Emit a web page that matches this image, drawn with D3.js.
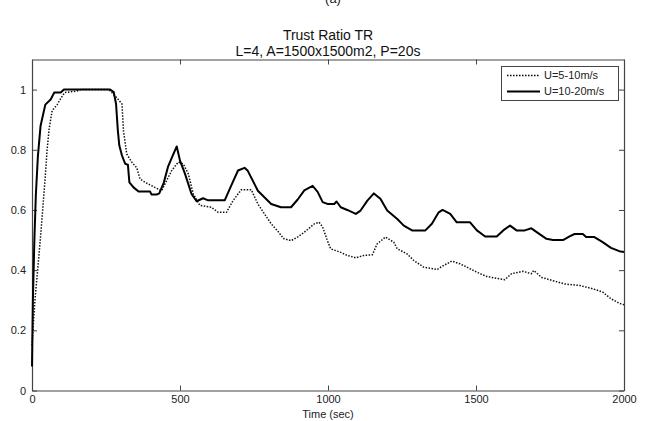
<!DOCTYPE html>
<html>
<head>
<meta charset="utf-8">
<script src="https://cdn.jsdelivr.net/npm/d3@7"></script>
<style>
	body { margin: 0; background: #fff; }
	svg { display: block; font-family: "Liberation Sans", Arial, sans-serif; }
</style>
</head>
<body>
<svg id="chart"></svg>
<script>
const W = 653;
const H = 421;

// U=5-10m/s (dotted)
const timeSlow = [0, 3, 10, 19, 28, 36, 44, 51, 58, 68, 85, 100, 110, 150, 165, 260, 270, 290, 304, 309, 320, 337, 354, 365, 382, 415, 438, 449, 472, 494, 511, 528, 545, 567, 606, 629, 657, 679, 707, 741, 763, 808, 830, 850, 875, 897, 920, 954, 970, 982, 998, 1009, 1043, 1065, 1094, 1122, 1150, 1166, 1194, 1222, 1234, 1267, 1290, 1323, 1368, 1390, 1418, 1446, 1469, 1503, 1536, 1597, 1620, 1659, 1687, 1695, 1721, 1760, 1800, 1850, 1895, 1928, 1956, 1984, 2000];
const trustSlow = [0.15, 0.2, 0.3, 0.4, 0.5, 0.6, 0.7, 0.8, 0.87, 0.93, 0.95, 0.975, 0.99, 0.995, 1, 1, 0.99, 0.969, 0.952, 0.864, 0.786, 0.759, 0.74, 0.703, 0.692, 0.675, 0.664, 0.686, 0.731, 0.759, 0.753, 0.72, 0.653, 0.615, 0.609, 0.592, 0.592, 0.631, 0.667, 0.667, 0.62, 0.554, 0.53, 0.505, 0.498, 0.51, 0.526, 0.554, 0.559, 0.543, 0.498, 0.471, 0.459, 0.449, 0.441, 0.449, 0.451, 0.487, 0.51, 0.493, 0.471, 0.454, 0.432, 0.41, 0.402, 0.415, 0.43, 0.421, 0.41, 0.393, 0.379, 0.368, 0.388, 0.396, 0.388, 0.399, 0.376, 0.365, 0.354, 0.349, 0.338, 0.327, 0.305, 0.29, 0.285];

// U=10-20m/s (solid)
const timeFast = [0, 3, 8, 13, 20, 29, 45, 63, 75, 97, 108, 264, 276, 284, 290, 295, 304, 315, 324, 329, 343, 360, 399, 404, 421, 430, 445, 460, 475, 489, 500, 517, 539, 556, 578, 595, 651, 673, 696, 718, 729, 763, 808, 841, 875, 897, 920, 948, 965, 982, 998, 1021, 1029, 1043, 1065, 1094, 1110, 1133, 1155, 1177, 1200, 1234, 1256, 1284, 1329, 1351, 1374, 1387, 1413, 1435, 1480, 1503, 1531, 1570, 1592, 1615, 1637, 1665, 1687, 1710, 1738, 1760, 1794, 1816, 1833, 1861, 1872, 1900, 1928, 1956, 1984, 2000];
const trustFast = [0.08, 0.3, 0.5, 0.65, 0.78, 0.88, 0.95, 0.967, 0.99, 0.99, 1, 1, 0.992, 0.952, 0.864, 0.814, 0.781, 0.753, 0.75, 0.692, 0.675, 0.661, 0.661, 0.651, 0.651, 0.655, 0.69, 0.745, 0.78, 0.811, 0.764, 0.72, 0.653, 0.629, 0.639, 0.632, 0.632, 0.681, 0.731, 0.74, 0.73, 0.664, 0.62, 0.609, 0.609, 0.634, 0.665, 0.68, 0.66, 0.626, 0.62, 0.62, 0.628, 0.609, 0.6, 0.587, 0.598, 0.631, 0.655, 0.637, 0.598, 0.57, 0.548, 0.532, 0.532, 0.554, 0.592, 0.6, 0.587, 0.559, 0.559, 0.532, 0.512, 0.512, 0.532, 0.548, 0.532, 0.532, 0.539, 0.523, 0.504, 0.5, 0.5, 0.512, 0.52, 0.52, 0.51, 0.51, 0.493, 0.474, 0.463, 0.46];

const xTicks = [0, 500, 1000, 1500, 2000];
const yTicks = [0, 0.2, 0.4, 0.6, 0.8, 1];
const seriesNames = ["U=5-10m/s", "U=10-20m/s"];

const margin = { left: 32, right: 29, top: 59.5, bottom: 30.5 };
const axisColor = "#444";

function drawChart(svg) {
	let x = d3.scaleLinear().domain([0, 2000]).range([margin.left, W - margin.right]);
	let y = d3.scaleLinear().domain([0, 1.1]).range([H - margin.bottom, margin.top]);

	svg.append("text").attr("x", 333).attr("y", 3).attr("text-anchor", "middle")
		.attr("font-size", 13).attr("fill", "#222").text("(a)");
	svg.append("text").attr("x", 328).attr("y", 40).attr("text-anchor", "middle")
		.attr("font-size", 14).attr("fill", "#111").text("Trust Ratio TR");
	svg.append("text").attr("x", 328).attr("y", 56).attr("text-anchor", "middle")
		.attr("font-size", 14).attr("fill", "#111").text("L=4, A=1500x1500m2, P=20s");

	// box with inward ticks on all four sides
	let bottom = svg.append("g").attr("transform", `translate(0,${y(0)})`)
		.call(d3.axisBottom(x).tickValues(xTicks).tickFormat(d3.format("d"))
			.tickSizeInner(-5).tickSizeOuter(0).tickPadding(5));
	let top = svg.append("g").attr("transform", `translate(0,${y(1.1)})`)
		.call(d3.axisTop(x).tickValues(xTicks).tickSizeInner(-5).tickSizeOuter(0).tickFormat(""));
	let left = svg.append("g").attr("transform", `translate(${x(0)},0)`)
		.call(d3.axisLeft(y).tickValues(yTicks).tickFormat(d3.format("~g"))
			.tickSizeInner(-5).tickSizeOuter(0).tickPadding(6));
	let right = svg.append("g").attr("transform", `translate(${x(2000)},0)`)
		.call(d3.axisRight(y).tickValues(yTicks).tickSizeInner(-5).tickSizeOuter(0).tickFormat(""));
	[bottom, top, left, right].forEach(g => {
		g.select(".domain").attr("stroke", axisColor).attr("stroke-width", 1.2);
		g.selectAll(".tick line").attr("stroke", axisColor);
		g.selectAll("text").attr("fill", "#222").attr("font-size", 11)
			.attr("font-family", "'Liberation Sans', Arial, sans-serif");
	});

	svg.append("text").attr("x", 328).attr("y", 418).attr("text-anchor", "middle")
		.attr("font-size", 11).attr("fill", "#222").text("Time (sec)");

	let line = d3.line().x(d => x(d[0])).y(d => y(d[1]));
	let slow = timeSlow.map((t, i) => [t, trustSlow[i]]);
	let fast = timeFast.map((t, i) => [t, trustFast[i]]);

	svg.append("path").datum(slow).attr("d", line).attr("fill", "none")
		.attr("stroke", "#111").attr("stroke-width", 1.5).attr("stroke-dasharray", "1.5,1.5");
	svg.append("path").datum(fast).attr("d", line).attr("fill", "none")
		.attr("stroke", "#000").attr("stroke-width", 2).attr("stroke-linejoin", "round");

	// legend
	let lg = svg.append("g");
	lg.append("rect").attr("x", 501.5).attr("y", 66.5).attr("width", 117).attr("height", 34)
		.attr("fill", "#fff").attr("stroke", axisColor);
	seriesNames.forEach((name, i) => {
		let ly = 75.5 + i * 16;
		lg.append("line").attr("x1", 507).attr("x2", 540).attr("y1", ly).attr("y2", ly)
			.attr("stroke", "#000")
			.attr("stroke-width", i === 0 ? 1.5 : 2)
			.attr("stroke-dasharray", i === 0 ? "1.5,1.5" : null);
		lg.append("text").attr("x", 544).attr("y", ly).attr("dy", "0.35em")
			.attr("font-size", 11).attr("fill", "#222").text(name);
	});
}

window.addEventListener("load", () => {
	let svg = d3.select("#chart").attr("width", W).attr("height", H);
	svg.append("rect").attr("width", W).attr("height", H).attr("fill", "#fff");
	drawChart(svg);
});
</script>
</body>
</html>
